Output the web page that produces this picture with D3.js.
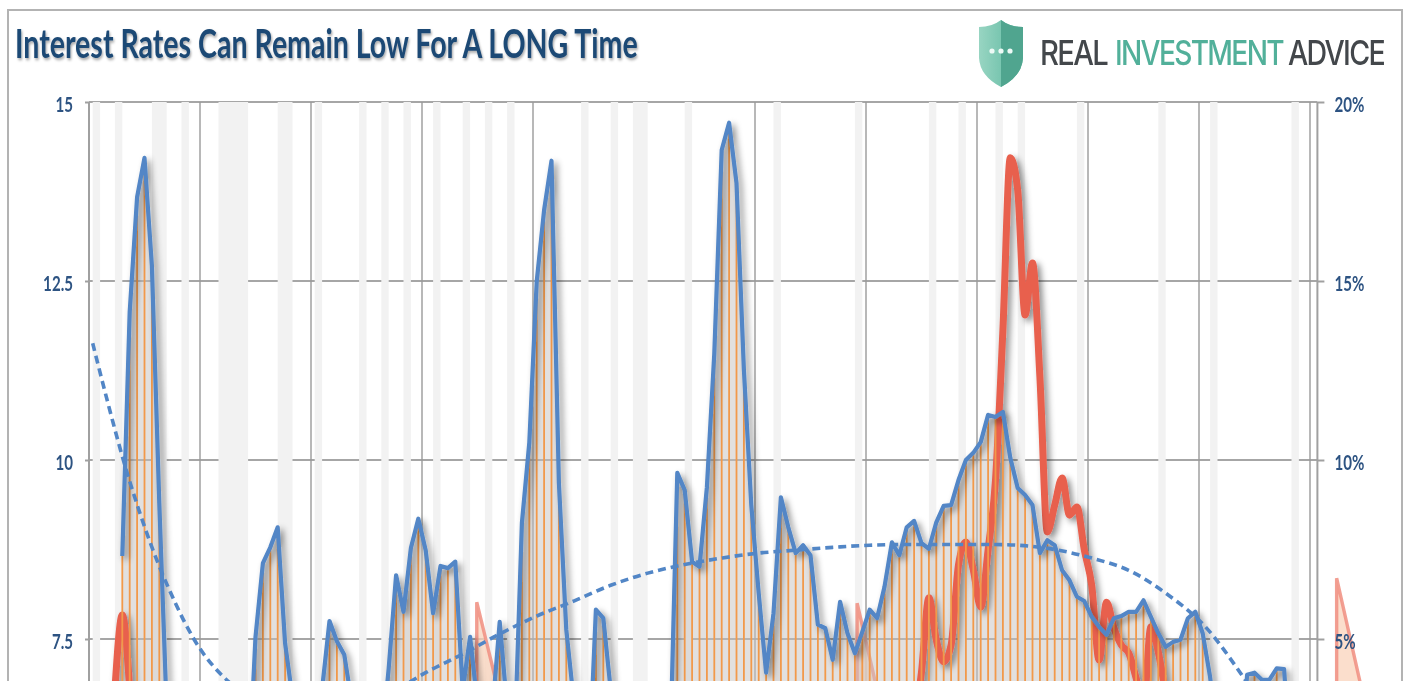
<!DOCTYPE html>
<html><head><meta charset="utf-8">
<script src="https://cdnjs.cloudflare.com/ajax/libs/d3/7.8.5/d3.min.js"></script>
<style>
html,body{margin:0;padding:0;background:#fff;overflow:hidden}
svg{display:block}
</style></head><body>
<div id="chart"></div>
<script>
const titleText = "Interest Rates Can Remain Low For A LONG Time";
const gridTicks = [7.5, 10, 12.5, 15];
const leftTicks = [7.5, 10, 12.5, 15];
const rightTicks = [5, 10, 15, 20];
const categoryCount = 166;
const gridEvery = 15;

// rate series, left axis; index = category; blanks before first reading. Values below the crop are estimates.
const rateStart = 4;
const rateValues = [
 8.66,12.07,13.67,14.22,12.71,9.40,6.51,6.3,6.0,5.9,5.8,5.9,6.1,6.0,5.8,5.7,5.9,5.39,7.53,8.56,
 8.78,9.06,7.44,6.68,6.2,5.9,6.0,6.80,7.75,7.47,7.28,6.62,6.2,5.9,5.8,6.0,7.09,8.39,7.88,8.77,
 9.18,8.74,7.86,8.52,8.49,8.58,6.79,7.53,6.58,6.1,6.47,7.74,6.55,6.02,9.12,10.24,12.49,13.49,14.18,9.68,
 7.63,6.65,6.2,5.53,7.91,7.79,6.79,6.2,5.9,5.8,5.7,5.8,6.0,6.0,5.8,9.82,9.58,8.58,8.51,9.62,
 11.49,14.33,14.71,13.87,11.26,9.37,8.14,7.03,7.86,9.48,9.06,8.70,8.81,8.67,7.70,7.65,7.21,8.02,7.58,7.30,
 7.60,7.91,7.79,8.23,8.85,8.67,9.06,9.15,8.84,8.76,9.13,9.36,9.37,9.72,10.00,10.10,10.25,10.63,10.60,10.67,
 10.03,9.61,9.51,9.37,8.70,8.88,8.81,8.46,8.32,8.09,8.03,7.81,7.67,7.56,7.79,7.82,7.88,7.88,8.04,7.81,
 7.58,7.39,7.46,7.49,7.79,7.88,7.58,6.97,6.09,5.9,5.8,5.53,7.00,7.03,6.93,6.93,7.09,7.08,5.53,5.4,5.3,5.3
];

// percent series, right axis; only the parts inside the crop
const pctEarlyStart = 3;
const pctEarly = [3.58,5.67,3.58];
const pctLateStart = 110;
const pctLate = [
 1.62,2.60,4.08,6.15,4.97,4.36,4.83,7.07,7.71,6.93,5.89,7.49,9.44,13.63,18.44,17.54,14.05,15.50,12.32,7.99,
 8.74,9.50,8.46,8.69,7.49,6.50,4.41,6.03,5.31,4.83,4.61,3.91,3.16,5.34,4.64,3.44,2.04
];

// trend line, left axis, one reading every trendStep categories
const trendStep = 5;
const trendValues = [
 11.63,9.70,8.27,7.29,6.76,6.44,6.31,6.42,6.72,7.03,7.29,7.57,7.82,8.03,8.25,8.42,8.54,8.63,8.70,8.74,
 8.78,8.81,8.82,8.82,8.82,8.81,8.75,8.63,8.46,8.14,7.71,7.04,6.24,5.35
];

// shaded columns as [first category, last category]
const shadedSpans = [[0,1],[3,4],[8,10],[12,13],[17,21],[25,27],[30,31],[36,37],[39,40],[42,43],[46,47],[50,51],[53,54],[56,57],
 [66,67],[70,71],[73,75],[80,81],[92,93],[103,104],[113,114],[117,118],[122,123],[125,126],[133,134],[144,145],[151,152],[162,163]];

// spikes: apex category, apex percent, category where it returns to zero
const spikeApex = [51.9,103.3,168.1];
const spikeTop = [6.03,6.0,6.7];
const spikeEnd = [59,110,175.4];

const W = 1408, H = 681;
const svg = d3.select("#chart").append("svg").attr("width",W).attr("height",H)
  .style("filter","blur(0.5px)");
const defs = svg.append("defs");
const shadow = defs.append("filter").attr("id","sh").attr("x","-20%").attr("y","-20%").attr("width","150%").attr("height","150%");
shadow.append("feDropShadow").attr("dx",3.5).attr("dy",3.5).attr("stdDeviation",3.2).attr("flood-color","#000").attr("flood-opacity",0.45);
const tsh = defs.append("filter").attr("id","tsh").attr("x","-5%").attr("y","-20%").attr("width","110%").attr("height","150%");
tsh.append("feDropShadow").attr("dx",1.5).attr("dy",2).attr("stdDeviation",1.5).attr("flood-color","#000").attr("flood-opacity",0.35);
const lg = defs.append("linearGradient").attr("id","shield").attr("x1",0).attr("x2",1).attr("y1",0).attr("y2",0);
lg.append("stop").attr("offset",0).attr("stop-color","#98d5c2");
lg.append("stop").attr("offset",1).attr("stop-color","#5ab69e");

const x = d3.scaleLinear().domain([0,categoryCount]).range([89,1317.4]);
const cx = i => x(i+0.5);
const yL = d3.scaleLinear().domain([5,15]).range([818,102]);
const yR = d3.scaleLinear().domain([0,20]).range([818,102]);

// frame
svg.append("rect").attr("x",8).attr("y",10).attr("width",1394).attr("height",H+20)
  .attr("fill","#fff").attr("stroke","#b3b3b3").attr("stroke-width",2);

// grid
const grid = svg.append("g").attr("stroke","#a6a6a6");
grid.selectAll("line.h").data(gridTicks).join("line").attr("class","h")
  .attr("x1",89).attr("x2",1317.4).attr("y1",d=>yL(d)).attr("y2",d=>yL(d)).attr("stroke-width",2);
grid.selectAll("line.v").data(d3.range(gridEvery,categoryCount,gridEvery)).join("line").attr("class","v")
  .attr("x1",d=>x(d)).attr("x2",d=>x(d)).attr("y1",102).attr("y2",818).attr("stroke-width",1.4).attr("stroke","#9a9a9a");

// shaded columns
svg.append("g").attr("fill","#f2f2f2").selectAll("rect").data(shadedSpans).join("rect")
  .attr("x",d=>cx(d[0])).attr("width",d=>cx(d[1])-cx(d[0])).attr("y",102).attr("height",716);

// spikes
const spikeG = svg.append("g");
spikeApex.forEach((a,k)=>{
  const line = d3.line().x(d=>cx(d[0])).y(d=>yR(d[1]));
  spikeG.append("path").attr("d",line([[a,0],[a,spikeTop[k]],[spikeEnd[k],0]])+"Z")
    .attr("fill","#f9d3bb").attr("fill-opacity",0.75).attr("stroke","#f08e80").attr("stroke-opacity",0.85).attr("stroke-width",3.4);
});

const rate = rateValues.map((v,k)=>({i:k+rateStart,v}));
// area under the rate series
svg.append("path").datum(rate)
  .attr("d",d3.area().x(d=>cx(d.i)).y0(818).y1(d=>yL(d.v)))
  .attr("fill","#c6c2bf").attr("fill-opacity",0.5);

// percent series
const redLine = d3.line().x(d=>cx(d.i)).y(d=>yR(d.v)).curve(d3.curveMonotoneX);
const redG = svg.append("g").attr("filter","url(#sh)");
[[pctEarlyStart,pctEarly],[pctLateStart,pctLate]].forEach(([s,arr])=>{
  redG.append("path").datum(arr.map((v,k)=>({i:k+s,v})))
    .attr("d",redLine).attr("fill","none").attr("stroke","#e8604e").attr("stroke-width",7)
    .attr("stroke-linejoin","round").attr("stroke-linecap","round");
});

// bars
svg.append("g").attr("stroke","#f2994a").attr("stroke-width",1.8).selectAll("line").data(rate).join("line")
  .attr("x1",d=>cx(d.i)).attr("x2",d=>cx(d.i)).attr("y1",d=>yL(d.v)).attr("y2",818);

// rate line
svg.append("path").datum(rate).attr("filter","url(#sh)")
  .attr("d",d3.line().x(d=>cx(d.i)).y(d=>yL(d.v)))
  .attr("fill","none").attr("stroke","#5286c6").attr("stroke-width",4.2).attr("stroke-linejoin","round");

// trend
svg.append("path").datum(trendValues.map((v,k)=>({i:k*trendStep,v})))
  .attr("d",d3.line().x(d=>cx(d.i)).y(d=>yL(d.v)).curve(d3.curveCatmullRom))
  .attr("fill","none").attr("stroke","#5286c6").attr("stroke-width",3.6).attr("stroke-dasharray","8 5");

// squeezes a text horizontally to a target width, keeping its anchor
function squeeze(sel, anchorX, baseY, width){
  const natural = sel.node().getComputedTextLength();
  sel.attr("x",0).attr("y",0).attr("transform",`translate(${anchorX},${baseY}) scale(${width/natural},1)`);
}

// axes
const fmtL = d=>String(d);
const fmtR = d=>d+"%";
const axL = svg.append("g").attr("transform","translate(89,0)").call(d3.axisLeft(yL).tickValues(leftTicks).tickFormat(fmtL).tickSize(4).tickSizeOuter(0));
const axR = svg.append("g").attr("transform","translate(1317.4,0)").call(d3.axisRight(yR).tickValues(rightTicks).tickFormat(fmtR).tickSize(7).tickSizeOuter(0));
axL.select("path.domain").attr("d","M-0,102V818");
axR.select("path.domain").attr("d","M0,102V818");
[axL,axR].forEach(a=>{
  a.selectAll("path,line").attr("stroke","#a0a0a0").attr("stroke-width",2);
  a.selectAll("text").attr("font-family","Lato,sans-serif").attr("dy",0)
    .attr("font-weight",700).attr("font-size",21).attr("fill","#2d5382").attr("stroke","none");
});
axL.selectAll("text").attr("text-anchor","end").attr("x",0).attr("y",0).attr("transform","translate(-16,9) scale(0.72,1)");
axR.selectAll("text").attr("text-anchor","start").attr("x",0).attr("y",0).attr("transform","translate(17,9) scale(0.72,1)");

// title
const title = svg.append("text").text(titleText)
  .attr("font-family","Lato,sans-serif").attr("font-weight",700).attr("font-size",41)
  .attr("fill","#1f4a75").attr("filter","url(#tsh)");
squeeze(title,15,58,623);

// logo
const logo = svg.append("g");
logo.append("path").attr("d","M979 27 Q992 27 1001 20 Q1010 27 1023 27 L1023 58 Q1022 76 1001 87 Q980 76 979 58 Z").attr("fill","url(#shield)");
logo.append("path").attr("d","M1001 20 Q1010 27 1023 27 L1023 58 Q1022 76 1001 87 Z").attr("fill","#50a58f");
logo.selectAll("circle").data([992,1001,1010]).join("circle").attr("cx",d=>d).attr("cy",51).attr("r",2.6).attr("fill","#eefaf6");
const logoWords = [["REAL",1040,67,"#43474b"],["INVESTMENT",1115,168,"#52b09a"],["ADVICE",1288,96,"#43474b"]];
logo.selectAll("text").data(logoWords).join("text").text(d=>d[0])
  .attr("font-family","Inter,Lato,sans-serif").attr("font-size",34).attr("font-weight",500).attr("letter-spacing",-2).attr("fill",d=>d[3])
  .each(function(d){ squeeze(d3.select(this),d[1],65,d[2]); });
</script>
</body></html>
